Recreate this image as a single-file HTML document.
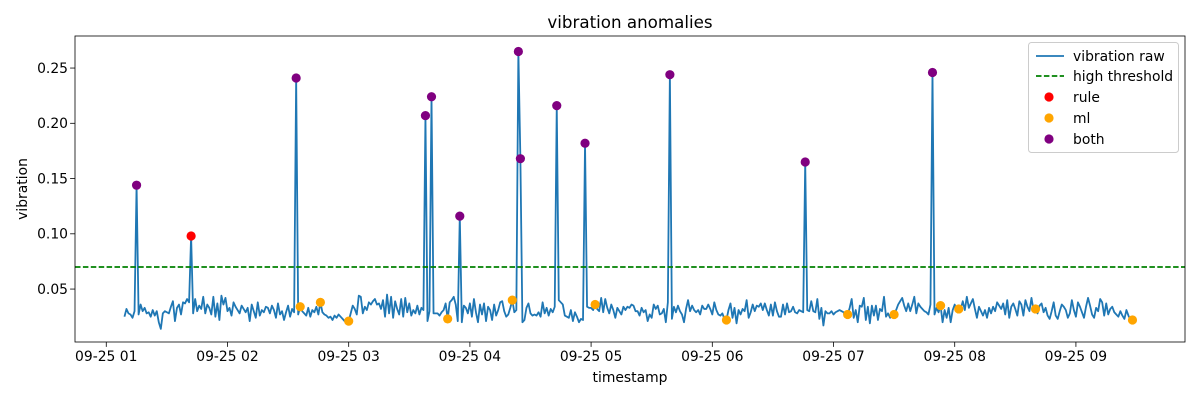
<!DOCTYPE html>
<html><head><meta charset="utf-8"><style>
html,body{margin:0;padding:0;background:#fff;}
svg{display:block;font-family:"DejaVu Sans","Liberation Sans",sans-serif;}
</style></head><body>
<svg id="chart" width="1200" height="400" viewBox="0 0 1200 400" xmlns="http://www.w3.org/2000/svg">
<rect x="0" y="0" width="1200" height="400" fill="#fff"/>
<text x="630" y="28" text-anchor="middle" font-size="16.7">vibration anomalies</text>
<g id="plot"></g>
<text x="630" y="382" text-anchor="middle" font-size="13.9">timestamp</text>
<text transform="translate(27,189) rotate(-90)" text-anchor="middle" font-size="13.9">vibration</text>
<g>
<rect x="1028.5" y="42.5" width="150" height="110" rx="3" fill="#fff" fill-opacity="0.8" stroke="#ccc"/>
<line x1="1036" y1="56" x2="1064" y2="56" stroke="#1f77b4" stroke-width="1.8"/>
<text x="1073" y="61" font-size="13.9">vibration raw</text>
<line x1="1036" y1="76" x2="1064" y2="76" stroke="green" stroke-width="1.8" stroke-dasharray="5.5,2.4"/>
<text x="1073" y="81" font-size="13.9">high threshold</text>
<circle cx="1049" cy="97" r="4.6" fill="red"/>
<text x="1073" y="102" font-size="13.9">rule</text>
<circle cx="1049" cy="118" r="4.6" fill="orange"/>
<text x="1073" y="123" font-size="13.9">ml</text>
<circle cx="1049" cy="139" r="4.6" fill="purple"/>
<text x="1073" y="144" font-size="13.9">both</text>
</g>
</svg>
<script>
// minutes after 00:00 of first sample (01:09), 1-minute spacing
const startMinute = 69;
const values = [
0.025,0.032,0.028,0.027,0.024,0.030,0.144,0.027,0.036,0.030,0.033,0.028,0.029,0.025,0.031,0.026,0.030,0.020,0.014,0.028,
0.030,0.029,0.028,0.034,0.039,0.021,0.033,0.036,0.027,0.038,0.037,0.041,0.038,0.098,0.028,0.041,0.030,0.035,0.032,0.043,
0.028,0.036,0.033,0.027,0.043,0.025,0.037,0.022,0.044,0.036,0.042,0.030,0.033,0.026,0.038,0.034,0.031,0.028,0.035,0.032,
0.029,0.033,0.021,0.036,0.030,0.024,0.038,0.026,0.031,0.029,0.034,0.033,0.028,0.035,0.031,0.024,0.037,0.027,0.030,0.022,
0.029,0.035,0.025,0.032,0.029,0.241,0.027,0.034,0.030,0.028,0.026,0.033,0.025,0.031,0.029,0.034,0.027,0.038,0.029,0.027,
0.026,0.024,0.025,0.022,0.026,0.024,0.027,0.025,0.023,0.021,0.021,0.021,0.028,0.035,0.032,0.027,0.044,0.043,0.028,0.034,
0.031,0.038,0.036,0.039,0.041,0.036,0.037,0.032,0.040,0.025,0.045,0.028,0.043,0.024,0.039,0.032,0.027,0.041,0.025,0.042,
0.029,0.037,0.026,0.031,0.028,0.035,0.027,0.033,0.031,0.207,0.021,0.030,0.224,0.028,0.028,0.028,0.026,0.029,0.031,0.037,
0.023,0.038,0.040,0.043,0.036,0.021,0.116,0.020,0.035,0.033,0.028,0.037,0.025,0.041,0.029,0.020,0.036,0.027,0.037,0.021,
0.034,0.031,0.022,0.036,0.026,0.031,0.038,0.039,0.030,0.025,0.027,0.033,0.040,0.029,0.031,0.265,0.168,0.020,0.022,0.033,
0.037,0.028,0.026,0.027,0.026,0.029,0.025,0.038,0.028,0.033,0.026,0.032,0.029,0.034,0.216,0.040,0.038,0.036,0.026,0.025,
0.024,0.031,0.021,0.029,0.025,0.020,0.023,0.022,0.182,0.034,0.033,0.033,0.031,0.036,0.032,0.030,0.042,0.029,0.041,0.033,
0.028,0.036,0.031,0.024,0.033,0.030,0.027,0.034,0.031,0.034,0.033,0.036,0.035,0.030,0.030,0.026,0.033,0.029,0.031,0.021,
0.027,0.024,0.036,0.032,0.035,0.027,0.028,0.032,0.020,0.038,0.244,0.023,0.034,0.029,0.035,0.030,0.027,0.020,0.032,0.040,
0.030,0.035,0.031,0.029,0.031,0.027,0.035,0.032,0.032,0.036,0.032,0.027,0.038,0.031,0.027,0.026,0.028,0.023,0.022,0.031,
0.037,0.024,0.033,0.019,0.031,0.027,0.032,0.030,0.040,0.024,0.029,0.036,0.030,0.035,0.034,0.037,0.031,0.037,0.031,0.026,
0.036,0.026,0.038,0.030,0.025,0.025,0.036,0.027,0.037,0.029,0.030,0.034,0.029,0.028,0.031,0.030,0.029,0.165,0.031,0.030,
0.039,0.030,0.029,0.041,0.023,0.033,0.017,0.030,0.028,0.028,0.030,0.027,0.029,0.030,0.031,0.030,0.029,0.025,0.027,0.033,
0.041,0.024,0.031,0.020,0.035,0.034,0.042,0.022,0.034,0.019,0.035,0.026,0.035,0.022,0.032,0.030,0.043,0.025,0.028,0.024,
0.027,0.027,0.031,0.036,0.039,0.042,0.035,0.030,0.037,0.030,0.036,0.043,0.028,0.037,0.034,0.032,0.030,0.029,0.027,0.036,
0.246,0.027,0.033,0.029,0.035,0.020,0.031,0.024,0.033,0.020,0.031,0.036,0.030,0.032,0.032,0.039,0.031,0.043,0.033,0.037,
0.041,0.032,0.024,0.034,0.030,0.026,0.031,0.024,0.033,0.028,0.034,0.030,0.038,0.035,0.032,0.037,0.027,0.040,0.024,0.034,
0.037,0.032,0.026,0.039,0.036,0.026,0.040,0.034,0.030,0.042,0.031,0.032,0.028,0.035,0.037,0.029,0.033,0.026,0.023,0.030,
0.038,0.026,0.023,0.030,0.036,0.034,0.031,0.024,0.028,0.040,0.031,0.025,0.038,0.034,0.029,0.024,0.034,0.042,0.035,0.027,
0.024,0.033,0.030,0.041,0.038,0.026,0.037,0.027,0.032,0.034,0.029,0.027,0.025,0.030,0.026,0.023,0.031,0.026,0.022,0.022
];
const ruleIdx = [33];
const mlIdx = [87,97,111,160,192,233,298,358,381,404,413,451,499];
const bothIdx = [6,85,149,152,166,195,196,214,228,270,337,400];
const threshold = 0.07;
const yTicks = [0.05,0.10,0.15,0.20,0.25];
const xTickHours = [1,2,3,4,5,6,7,8,9];

const NS = "http://www.w3.org/2000/svg";
const L = 75, R = 1185, T = 36, B = 342;
const xMinH = -0.258, xMaxH = 8.9;   // hours after 01:00
const yMin = 0.0021, yMax = 0.279;
function xHour(h){ return L + (h - xMinH) / (xMaxH - xMinH) * (R - L); }
function xIdx(i){ return xHour((startMinute + i) / 60 - 1); }
function y(v){ return B - (v - yMin) / (yMax - yMin) * (B - T); }
const g = document.getElementById('plot');
function mk(tag, attrs){ const e = document.createElementNS(NS, tag); for (const k in attrs) e.setAttribute(k, attrs[k]); g.appendChild(e); return e; }

yTicks.forEach(v => {
  const t = mk('line', {x1: L - 4.9, x2: L, y1: y(v), y2: y(v), stroke: '#000', 'stroke-width': 0.8});
  
  
  const lb = mk('text', {x: L - 7, y: y(v) + 4.8, 'text-anchor': 'end', 'font-size': 13.9});
  lb.textContent = v.toFixed(2);
  
  
});
xTickHours.forEach(h => {
  const t = mk('line', {x1: xHour(h - 1), x2: xHour(h - 1), y1: B, y2: B + 4.9, stroke: '#000', 'stroke-width': 0.8});
  
  
  const lb = mk('text', {x: xHour(h - 1), y: B + 19, 'text-anchor': 'middle', 'font-size': 13.9});
  lb.textContent = '09-25 0' + h;
  
  
});

const pts = values.map((v, i) => xIdx(i).toFixed(2) + ',' + y(v).toFixed(2)).join(' ');
const line = mk('polyline', {points: pts, fill: 'none', stroke: '#1f77b4', 'stroke-width': 1.8, 'stroke-linejoin': 'round'});



const th = mk('line', {x1: L, x2: R, y1: y(threshold), y2: y(threshold), stroke: 'green', 'stroke-width': 1.8, 'stroke-dasharray': '5.5,2.4'});



function dots(idx, color, name){
  idx.forEach(i => {
    const c = mk('circle', {cx: xIdx(i), cy: y(values[i]), r: 4.6, fill: color});
    
    
  });
}
dots(ruleIdx, 'red', 'rule-anomaly-point');
dots(mlIdx, 'orange', 'ml-anomaly-point');
dots(bothIdx, 'purple', 'both-anomaly-point');

const fr = mk('rect', {x: L, y: T, width: R - L, height: B - T, fill: 'none', stroke: '#000', 'stroke-width': 0.8});


</script>
</body></html>
